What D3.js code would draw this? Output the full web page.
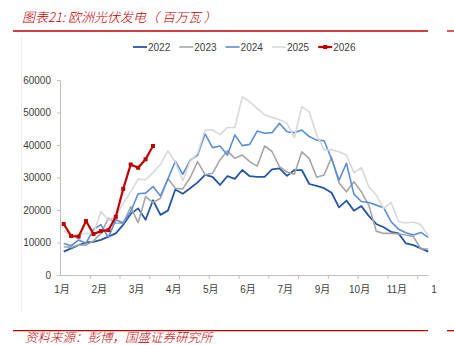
<!DOCTYPE html>
<html>
<head>
<meta charset="utf-8">
<script src="https://cdn.jsdelivr.net/npm/d3@7"></script>
<style>
  html, body { margin: 0; padding: 0; background: #fff; }
  svg { display: block; }
</style>
</head>
<body>
<svg id="chart" width="454" height="345"></svg>
<script>
// ---- data ----
const seriesNames = ["2022", "2023", "2024", "2025", "2026"];
const monthLabels = ["1月", "2月", "3月", "4月", "5月", "6月", "7月", "9月", "10月", "11月", "1"];
const yTicks = [0, 10000, 20000, 30000, 40000, 50000, 60000];

const v2022 = [7200, 8200, 9200, 10000, 10200, 10800, 11800, 12800, 15500, 18800,
               20500, 17000, 23000, 18500, 19800, 26300, 25000, 26700, 28500, 30800,
               30200, 27700, 30400, 29600, 32300, 30400, 30200, 30200, 32500, 32800,
               30500, 32300, 32300, 28000, 27400, 26700, 25300, 20800, 22900, 19800,
               21200, 18200, 15700, 14700, 13300, 12800, 9700, 9200, 8200, 7200];
const v2023 = [8700, 8500, 9200, 9200, 10500, 12800, 17500, 16000, 15900, 21000,
               16100, 24100, 22300, 23600, 29700, 26700, 26500, 30000, 34900, 30800,
               31300, 35400, 38200, 35900, 36900, 34900, 33500, 39700, 38000, 33300,
               31700, 31000, 37900, 35800, 30100, 30800, 36200, 28300, 25600, 28700,
               25600, 21500, 13500, 12800, 12800, 12600, 12300, 11800, 8000, 8000];
const v2024 = [9700, 9000, 10800, 9800, 14000, 15500, 11500, 17000, 16000, 19500,
               25000, 25200, 27200, 24300, 29500, 35000, 31000, 35300, 36900, 43400,
               39200, 39700, 36900, 43100, 39800, 40200, 44300, 43600, 43800, 46700,
               44100, 43800, 44600, 42600, 41500, 41300, 35700, 29200, 34400, 24900,
               22600, 22300, 21500, 20700, 16400, 14100, 13000, 12300, 13100, 11600];
const v2025 = [13800, 11800, 12500, 12800, 12800, 19500, 16900, 17900, 22100, 25600,
               29500, 29300, 31500, 34000, 38200, 34700, 29000, 35000, 37500, 44600,
               44600, 43200, 45400, 45400, 54800, 53300, 51300, 49300, 48500, 47800,
               46700, 42300, 51800, 50200, 43100, 38500, 38500, 37900, 36900, 31500,
               33000, 27200, 24600, 20500, 22300, 16400, 16000, 16300, 15500, 12000];
const v2026 = [15700, 12000, 11800, 16600, 12600, 13500, 13800, 17900, 26500, 34000,
               33000, 35600, 39700];

const seriesValues = [v2022, v2023, v2024, v2025, v2026];
const seriesColors = ["#2557A7", "#A6A6A6", "#5B8FD8", "#D9D9D9", "#C00000"];
const seriesWidths = [1.8, 1.6, 1.6, 1.6, 2.2];

// ---- layout ----
const svg = d3.select("#chart");
const FONT = "'Liberation Sans', Arial, 'Noto Sans CJK SC', sans-serif";
const CJK = "'Noto Sans CJK SC', sans-serif";
const RED = "#C00000";

const x = d3.scaleLinear().domain([-0.5, 49]).range([60, 428.3]);
const y = d3.scaleLinear().domain([0, 60000]).range([275, 80]);

// title
svg.append("text").attr("x", 22).attr("y", 22)
  .attr("font-family", CJK).attr("font-style", "italic").attr("font-weight", 300).attr("font-size", 13)
  .attr("fill", RED).text("图表21:  欧洲光伏发电（ 百万瓦 ）");

// rules
[[31, 13, 428], [31, 447, 454], [330.7, 13, 428], [330.7, 447, 454]].forEach(([yy, x1, x2]) => {
  svg.append("line").attr("x1", x1).attr("x2", x2).attr("y1", yy).attr("y2", yy)
    .attr("stroke", RED).attr("stroke-width", 1.3);
});

// faint chart-area border
svg.append("line").attr("x1", 21.5).attr("x2", 21.5).attr("y1", 35).attr("y2", 312)
  .attr("stroke", "#f0f0f0").attr("stroke-width", 1);

// source
svg.append("text").attr("x", 25).attr("y", 342)
  .attr("font-family", CJK).attr("font-style", "italic").attr("font-weight", 300).attr("font-size", 12.5)
  .attr("fill", RED).text("资料来源：彭博，国盛证券研究所");

// y axis
const yAxis = svg.append("g").attr("transform", "translate(60,0)")
  .call(d3.axisLeft(y).tickValues(yTicks).tickSize(3).tickSizeOuter(0).tickPadding(6).tickFormat(d3.format("d")));
yAxis.selectAll("path, line").attr("stroke", "#BFBFBF");
yAxis.selectAll("text").attr("font-family", FONT).attr("font-size", 10).attr("fill", "#404040");

// x axis
const xTickVals = d3.range(3.5, 48, 4);
const xAxis = svg.append("g").attr("transform", "translate(0,275)")
  .call(d3.axisBottom(x).tickValues(xTickVals).tickSize(4).tickSizeOuter(0).tickFormat(""));
xAxis.selectAll("path, line").attr("stroke", "#BFBFBF");

// x labels (every 5 categories)
const labelG = svg.append("g");
labelG.selectAll("text").data(monthLabels).join("text")
  .attr("x", (d, i) => x(i * 5) - 1.7)
  .attr("y", 293)
  .attr("text-anchor", "middle")
  .attr("font-family", FONT).attr("font-size", 10).attr("fill", "#404040")
  .text(d => d);

// lines
const line = d3.line().x((d, i) => x(i)).y(d => y(d));
seriesValues.forEach((vals, s) => {
  svg.append("path").datum(vals)
    .attr("fill", "none")
    .attr("stroke", seriesColors[s])
    .attr("stroke-width", seriesWidths[s])
    .attr("stroke-linejoin", "round")
    .attr("d", line);
});
// 2026 markers
svg.append("g").selectAll("rect").data(v2026).join("rect")
  .attr("x", (d, i) => x(i) - 2).attr("y", d => y(d) - 2)
  .attr("width", 4).attr("height", 4).attr("fill", RED);

// legend
const legend = svg.append("g");
seriesNames.forEach((name, i) => {
  const lx = 133 + 46.3 * i;
  const g = legend.append("g").attr("transform", `translate(${lx},47)`);
  g.append("line").attr("x1", 0).attr("x2", 14).attr("y1", 0).attr("y2", 0)
    .attr("stroke", seriesColors[i]).attr("stroke-width", seriesWidths[i]);
  if (i === 4) {
    g.append("rect").attr("x", 5).attr("y", -2).attr("width", 4).attr("height", 4).attr("fill", RED);
  }
  g.append("text").attr("x", 15).attr("y", 3.6)
    .attr("font-family", FONT).attr("font-size", 10).attr("fill", "#404040").text(name);
});
</script>
</body>
</html>
